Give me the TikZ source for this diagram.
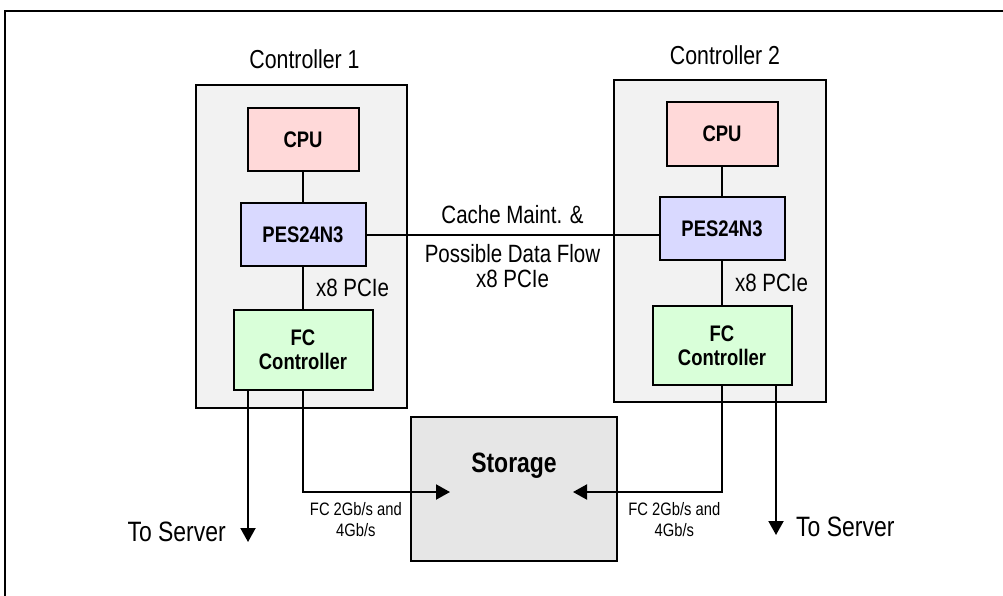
\documentclass[tikz,border=0pt]{standalone}
\usepackage{fontspec}
\setmainfont[FakeStretch=0.82]{Liberation Sans}
\usetikzlibrary{positioning,arrows.meta}
\definecolor{ctlgray}{RGB}{242,242,242}
\definecolor{stogray}{RGB}{230,230,230}
\definecolor{cpupink}{RGB}{255,217,217}
\definecolor{pesblue}{RGB}{217,217,255}
\definecolor{fcgreen}{RGB}{217,255,217}

\begin{document}
\begin{tikzpicture}
  [x=1pt, y=-1pt,
   every node/.style={inner sep=0pt},
   box/.style={draw, line width=2pt, rectangle},
   chip/.style={box, align=center, font=\bfseries\fontsize{22.5}{24}\selectfont},
   conn/.style={line width=2pt},
   arr/.style={-{Triangle[length=14pt, width=15pt]}},
   title/.style={font=\fontsize{26}{30}\selectfont},
   lbl/.style={align=center, font=\fontsize{25}{25}\selectfont},
   small/.style={align=center, font=\fontsize{18}{21}\selectfont},
   srv/.style={font=\fontsize{28}{32}\selectfont}]
  \useasboundingbox (0,0) rectangle (1003,595);
  \draw[line width=2pt] (5,605) -- (5,11) -- (1010,11);

  \node (ctl1) [box, fill=ctlgray, minimum width=211pt, minimum height=323pt] at (301.5,246.5) {};
  \node (ctl2) [box, fill=ctlgray, minimum width=212pt, minimum height=322pt] at (720,241) {};
  \node (t1) [title, above=15pt of ctl1, xshift=3pt] {Controller 1};
  \node (t2) [title, above=14pt of ctl2, xshift=5pt] {Controller 2};

  \node (cpu1) [chip, fill=cpupink, minimum width=111pt, minimum height=63pt, below=23pt of ctl1.north, xshift=1.5pt] {CPU};
  \node (pes1) [chip, fill=pesblue, minimum width=125pt, minimum height=63pt, below=30pt of cpu1] {PES24N3};
  \node (fc1) [chip, fill=fcgreen, minimum width=139pt, minimum height=80pt, below=42pt of pes1] {FC\\Controller};

  \node (cpu2) [chip, fill=cpupink, minimum width=111pt, minimum height=64pt, below=22pt of ctl2.north, xshift=2pt] {CPU};
  \node (pes2) [chip, fill=pesblue, minimum width=125pt, minimum height=63pt, below=29pt of cpu2] {PES24N3};
  \node (fc2) [chip, fill=fcgreen, minimum width=139pt, minimum height=79pt, below=44pt of pes2] {FC\\Controller};

  \node (sto) [box, fill=stogray, minimum width=206pt, minimum height=144pt, text depth=52pt,
    font=\bfseries\fontsize{28}{32}\selectfont] at (514,489) {Storage};

  \draw[conn] (cpu1) -- (pes1);
  \draw[conn] (cpu2) -- (pes2);
  \draw[conn] (pes1) -- (fc1) node[lbl, midway, right=12pt] {x8 PCIe};
  \draw[conn] (pes2) -- (fc2) node[lbl, midway, right=12pt] {x8 PCIe};
  \draw[conn] (pes1.east) -- (pes1.east -| pes2.west)
    node[lbl, midway, above=10pt] {Cache Maint. \&}
    node[lbl, midway, below=9pt] {Possible Data Flow\\x8 PCIe};

  \coordinate (in1) at ([xshift=40pt, yshift=-3pt]sto.west);
  \coordinate (in2) at ([xshift=-45pt, yshift=-3pt]sto.east);
  \draw[conn, arr] (fc1.south) |- (in1) node[small, pos=0.68, below=9pt] {FC 2Gb/s and\\4Gb/s};
  \draw[conn, arr] (fc2.south) |- (in2) node[small, pos=0.66, below=9pt] {FC 2Gb/s and\\4Gb/s};

  \coordinate (srv1) at ([xshift=15.5pt, yshift=-151pt]fc1.south west);
  \coordinate (srv2) at ([xshift=-16.5pt, yshift=-149pt]fc2.south east);
  \draw[conn, arr] (fc1.south -| srv1) -- (srv1);
  \draw[conn, arr] (fc2.south -| srv2) -- (srv2);
  \node (ts1) [srv, left=22pt of srv1, yshift=10pt] {To Server};
  \node (ts2) [srv, right=20pt of srv2, yshift=8pt] {To Server};
\end{tikzpicture}
\end{document}
